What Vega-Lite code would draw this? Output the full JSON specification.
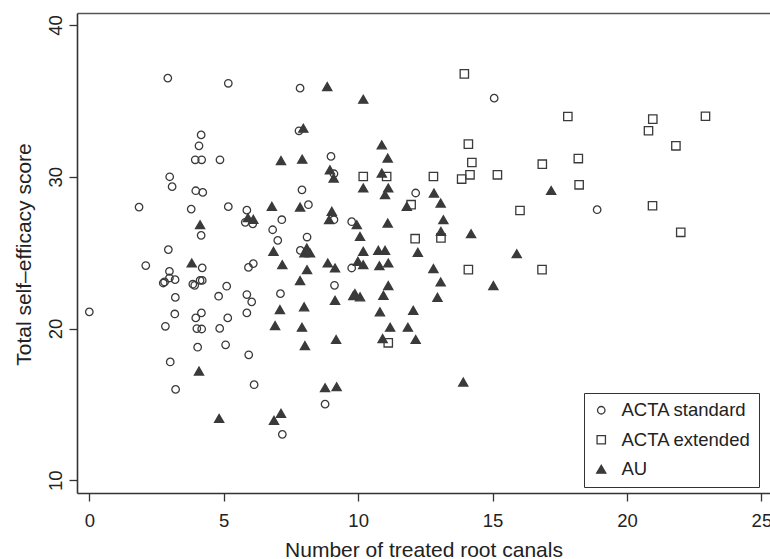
{
  "$schema": "https://vega.github.io/schema/vega-lite/v6.json",
  "autosize": {"type": "none"},
  "width": 693,
  "height": 480,
  "padding": {"left": 77, "top": 13, "right": 0, "bottom": 66},
  "background": "white",
  "config": {
    "view": {"stroke": null},
    "font": "Liberation Sans",
    "axis": {"grid": false, "domainColor": "#333333", "domainWidth": 1.6, "tickColor": "#333333", "tickWidth": 1.3, "tickSize": 8, "labelFont": "Liberation Sans", "labelFontSize": 18.5, "labelColor": "#222222", "titleFont": "Liberation Sans", "titleFontSize": 21, "titleFontWeight": "normal", "titleColor": "#222222"}
  },
  "data": {"values": [
    {"x": 0, "y": 21.1, "g": "ACTA standard"},
    {"x": 1.85, "y": 28.0, "g": "ACTA standard"},
    {"x": 2.1, "y": 24.15, "g": "ACTA standard"},
    {"x": 2.92, "y": 36.5, "g": "ACTA standard"},
    {"x": 2.99, "y": 30.0, "g": "ACTA standard"},
    {"x": 3.08, "y": 29.35, "g": "ACTA standard"},
    {"x": 2.94, "y": 25.2, "g": "ACTA standard"},
    {"x": 2.98, "y": 23.77, "g": "ACTA standard"},
    {"x": 2.75, "y": 23.0, "g": "ACTA standard"},
    {"x": 2.8, "y": 23.07, "g": "ACTA standard"},
    {"x": 2.98, "y": 23.33, "g": "ACTA standard"},
    {"x": 3.19, "y": 23.22, "g": "ACTA standard"},
    {"x": 3.2, "y": 22.05, "g": "ACTA standard"},
    {"x": 3.18, "y": 20.96, "g": "ACTA standard"},
    {"x": 2.83, "y": 20.15, "g": "ACTA standard"},
    {"x": 3.01, "y": 17.8, "g": "ACTA standard"},
    {"x": 3.21, "y": 15.99, "g": "ACTA standard"},
    {"x": 3.79, "y": 27.87, "g": "ACTA standard"},
    {"x": 3.94, "y": 31.12, "g": "ACTA standard"},
    {"x": 4.18, "y": 31.12, "g": "ACTA standard"},
    {"x": 4.08, "y": 32.04, "g": "ACTA standard"},
    {"x": 4.16, "y": 32.76, "g": "ACTA standard"},
    {"x": 3.96, "y": 29.08, "g": "ACTA standard"},
    {"x": 4.22, "y": 28.97, "g": "ACTA standard"},
    {"x": 4.16, "y": 26.14, "g": "ACTA standard"},
    {"x": 4.2, "y": 24.0, "g": "ACTA standard"},
    {"x": 3.85, "y": 22.92, "g": "ACTA standard"},
    {"x": 3.92, "y": 22.85, "g": "ACTA standard"},
    {"x": 4.12, "y": 23.17, "g": "ACTA standard"},
    {"x": 4.2, "y": 23.17, "g": "ACTA standard"},
    {"x": 3.96, "y": 20.7, "g": "ACTA standard"},
    {"x": 4.17, "y": 21.03, "g": "ACTA standard"},
    {"x": 4.0, "y": 20.0, "g": "ACTA standard"},
    {"x": 4.18, "y": 19.97, "g": "ACTA standard"},
    {"x": 4.03, "y": 18.77, "g": "ACTA standard"},
    {"x": 4.86, "y": 31.12, "g": "ACTA standard"},
    {"x": 5.17, "y": 36.16, "g": "ACTA standard"},
    {"x": 5.17, "y": 28.03, "g": "ACTA standard"},
    {"x": 4.81, "y": 22.13, "g": "ACTA standard"},
    {"x": 5.11, "y": 22.79, "g": "ACTA standard"},
    {"x": 5.15, "y": 20.7, "g": "ACTA standard"},
    {"x": 4.85, "y": 20.01, "g": "ACTA standard"},
    {"x": 5.07, "y": 18.93, "g": "ACTA standard"},
    {"x": 5.86, "y": 27.8, "g": "ACTA standard"},
    {"x": 5.8, "y": 27.0, "g": "ACTA standard"},
    {"x": 6.08, "y": 26.9, "g": "ACTA standard"},
    {"x": 5.92, "y": 24.03, "g": "ACTA standard"},
    {"x": 6.1, "y": 24.28, "g": "ACTA standard"},
    {"x": 5.86, "y": 22.24, "g": "ACTA standard"},
    {"x": 6.04, "y": 21.76, "g": "ACTA standard"},
    {"x": 5.86, "y": 21.03, "g": "ACTA standard"},
    {"x": 5.93, "y": 18.27, "g": "ACTA standard"},
    {"x": 6.13, "y": 16.3, "g": "ACTA standard"},
    {"x": 6.82, "y": 26.51, "g": "ACTA standard"},
    {"x": 7.16, "y": 27.17, "g": "ACTA standard"},
    {"x": 7.01, "y": 25.81, "g": "ACTA standard"},
    {"x": 7.11, "y": 22.3, "g": "ACTA standard"},
    {"x": 7.18, "y": 13.03, "g": "ACTA standard"},
    {"x": 7.84, "y": 35.84, "g": "ACTA standard"},
    {"x": 7.8, "y": 33.03, "g": "ACTA standard"},
    {"x": 7.91, "y": 29.14, "g": "ACTA standard"},
    {"x": 8.15, "y": 28.16, "g": "ACTA standard"},
    {"x": 7.85, "y": 25.15, "g": "ACTA standard"},
    {"x": 8.1, "y": 26.03, "g": "ACTA standard"},
    {"x": 8.99, "y": 31.34, "g": "ACTA standard"},
    {"x": 9.1, "y": 30.2, "g": "ACTA standard"},
    {"x": 9.1, "y": 27.17, "g": "ACTA standard"},
    {"x": 9.12, "y": 22.85, "g": "ACTA standard"},
    {"x": 8.77, "y": 15.02, "g": "ACTA standard"},
    {"x": 9.76, "y": 27.04, "g": "ACTA standard"},
    {"x": 9.76, "y": 23.99, "g": "ACTA standard"},
    {"x": 12.14, "y": 28.93, "g": "ACTA standard"},
    {"x": 15.06, "y": 35.18, "g": "ACTA standard"},
    {"x": 18.89, "y": 27.83, "g": "ACTA standard"},
    {"x": 13.95, "y": 36.78, "g": "ACTA extended"},
    {"x": 14.1, "y": 32.15, "g": "ACTA extended"},
    {"x": 14.23, "y": 30.94, "g": "ACTA extended"},
    {"x": 14.16, "y": 30.13, "g": "ACTA extended"},
    {"x": 13.85, "y": 29.85, "g": "ACTA extended"},
    {"x": 15.18, "y": 30.13, "g": "ACTA extended"},
    {"x": 12.8, "y": 30.02, "g": "ACTA extended"},
    {"x": 10.19, "y": 30.02, "g": "ACTA extended"},
    {"x": 11.06, "y": 30.02, "g": "ACTA extended"},
    {"x": 11.97, "y": 28.16, "g": "ACTA extended"},
    {"x": 13.08, "y": 25.97, "g": "ACTA extended"},
    {"x": 12.12, "y": 25.92, "g": "ACTA extended"},
    {"x": 14.1, "y": 23.88, "g": "ACTA extended"},
    {"x": 11.12, "y": 19.06, "g": "ACTA extended"},
    {"x": 17.8, "y": 33.97, "g": "ACTA extended"},
    {"x": 20.96, "y": 33.8, "g": "ACTA extended"},
    {"x": 20.8, "y": 33.03, "g": "ACTA extended"},
    {"x": 22.92, "y": 33.99, "g": "ACTA extended"},
    {"x": 21.82, "y": 32.04, "g": "ACTA extended"},
    {"x": 16.85, "y": 30.83, "g": "ACTA extended"},
    {"x": 18.19, "y": 31.2, "g": "ACTA extended"},
    {"x": 18.22, "y": 29.47, "g": "ACTA extended"},
    {"x": 16.02, "y": 27.78, "g": "ACTA extended"},
    {"x": 20.95, "y": 28.09, "g": "ACTA extended"},
    {"x": 22.0, "y": 26.34, "g": "ACTA extended"},
    {"x": 16.84, "y": 23.88, "g": "ACTA extended"},
    {"x": 3.81, "y": 24.32, "g": "AU"},
    {"x": 4.12, "y": 26.84, "g": "AU"},
    {"x": 4.08, "y": 17.2, "g": "AU"},
    {"x": 4.83, "y": 14.08, "g": "AU"},
    {"x": 5.9, "y": 27.3, "g": "AU"},
    {"x": 6.1, "y": 27.2, "g": "AU"},
    {"x": 6.79, "y": 28.05, "g": "AU"},
    {"x": 6.85, "y": 25.09, "g": "AU"},
    {"x": 7.13, "y": 31.07, "g": "AU"},
    {"x": 7.92, "y": 31.16, "g": "AU"},
    {"x": 7.96, "y": 33.2, "g": "AU"},
    {"x": 8.85, "y": 35.94, "g": "AU"},
    {"x": 8.95, "y": 30.46, "g": "AU"},
    {"x": 9.09, "y": 29.91, "g": "AU"},
    {"x": 7.84, "y": 28.0, "g": "AU"},
    {"x": 9.02, "y": 27.72, "g": "AU"},
    {"x": 8.92, "y": 27.17, "g": "AU"},
    {"x": 8.09, "y": 25.3, "g": "AU"},
    {"x": 8.0, "y": 24.98, "g": "AU"},
    {"x": 8.21, "y": 24.98, "g": "AU"},
    {"x": 7.18, "y": 24.21, "g": "AU"},
    {"x": 8.1, "y": 23.88, "g": "AU"},
    {"x": 8.87, "y": 24.32, "g": "AU"},
    {"x": 9.14, "y": 23.99, "g": "AU"},
    {"x": 7.84, "y": 23.16, "g": "AU"},
    {"x": 9.14, "y": 21.86, "g": "AU"},
    {"x": 9.82, "y": 22.17, "g": "AU"},
    {"x": 7.09, "y": 21.25, "g": "AU"},
    {"x": 7.99, "y": 21.43, "g": "AU"},
    {"x": 6.91, "y": 20.2, "g": "AU"},
    {"x": 7.91, "y": 20.09, "g": "AU"},
    {"x": 8.02, "y": 18.88, "g": "AU"},
    {"x": 9.18, "y": 19.28, "g": "AU"},
    {"x": 8.77, "y": 16.1, "g": "AU"},
    {"x": 9.2, "y": 16.17, "g": "AU"},
    {"x": 7.13, "y": 14.41, "g": "AU"},
    {"x": 6.87, "y": 13.95, "g": "AU"},
    {"x": 10.19, "y": 35.11, "g": "AU"},
    {"x": 10.88, "y": 32.1, "g": "AU"},
    {"x": 11.1, "y": 31.23, "g": "AU"},
    {"x": 10.19, "y": 29.26, "g": "AU"},
    {"x": 10.88, "y": 30.24, "g": "AU"},
    {"x": 11.12, "y": 29.26, "g": "AU"},
    {"x": 11.0, "y": 28.82, "g": "AU"},
    {"x": 11.81, "y": 28.05, "g": "AU"},
    {"x": 12.82, "y": 28.93, "g": "AU"},
    {"x": 13.07, "y": 28.27, "g": "AU"},
    {"x": 13.17, "y": 27.17, "g": "AU"},
    {"x": 13.08, "y": 26.4, "g": "AU"},
    {"x": 14.2, "y": 26.25, "g": "AU"},
    {"x": 9.95, "y": 26.84, "g": "AU"},
    {"x": 11.1, "y": 26.95, "g": "AU"},
    {"x": 10.07, "y": 26.07, "g": "AU"},
    {"x": 10.19, "y": 25.09, "g": "AU"},
    {"x": 9.99, "y": 24.43, "g": "AU"},
    {"x": 10.19, "y": 24.21, "g": "AU"},
    {"x": 10.75, "y": 25.15, "g": "AU"},
    {"x": 11.0, "y": 25.15, "g": "AU"},
    {"x": 10.79, "y": 24.14, "g": "AU"},
    {"x": 11.12, "y": 24.32, "g": "AU"},
    {"x": 12.22, "y": 25.02, "g": "AU"},
    {"x": 12.8, "y": 23.95, "g": "AU"},
    {"x": 11.12, "y": 22.83, "g": "AU"},
    {"x": 13.07, "y": 23.07, "g": "AU"},
    {"x": 15.03, "y": 22.83, "g": "AU"},
    {"x": 9.88, "y": 22.3, "g": "AU"},
    {"x": 10.07, "y": 22.09, "g": "AU"},
    {"x": 10.94, "y": 22.19, "g": "AU"},
    {"x": 12.95, "y": 22.06, "g": "AU"},
    {"x": 10.81, "y": 21.1, "g": "AU"},
    {"x": 12.05, "y": 21.2, "g": "AU"},
    {"x": 11.19, "y": 20.09, "g": "AU"},
    {"x": 11.85, "y": 20.09, "g": "AU"},
    {"x": 10.91, "y": 19.34, "g": "AU"},
    {"x": 12.14, "y": 19.28, "g": "AU"},
    {"x": 13.91, "y": 16.47, "g": "AU"},
    {"x": 17.18, "y": 29.1, "g": "AU"},
    {"x": 15.9, "y": 24.93, "g": "AU"}
  ]},
  "layer": [
    {
      "mark": {"type": "point", "strokeWidth": 1.3, "stroke": "#3a3a3a", "opacity": 1},
      "encoding": {
        "x": {"field": "x", "type": "quantitative", "scale": {"domain": [-0.458, 25.32], "nice": false, "zero": false},
          "axis": {"values": [0, 5, 10, 15, 20, 25], "title": "Number of treated root canals", "labelPadding": 10, "titleY": 63, "titleBaseline": "alphabetic"}},
        "y": {"field": "y", "type": "quantitative", "scale": {"domain": [9.165, 40.79], "nice": false, "zero": false},
          "axis": {"values": [10, 20, 30, 40], "title": "Total self\u2013efficacy score", "labelAngle": -90, "labelAlign": "center", "labelBaseline": "alphabetic", "labelPadding": 8, "titleX": -47, "titleY": 241, "titleBaseline": "alphabetic", "titleAngle": -90}},
        "shape": {"field": "g", "type": "nominal", "scale": {"domain": ["ACTA standard", "ACTA extended", "AU"], "range": ["circle", "square", "triangle-up"]},
          "legend": {"title": null, "orient": "none", "legendX": 507, "legendY": 380, "direction": "vertical", "strokeColor": "#333333", "fillColor": "white", "padding": 8, "rowPadding": 10.5, "labelFont": "Liberation Sans", "labelFontSize": 18.5, "labelColor": "#222222", "labelOffset": 11, "symbolStrokeWidth": 1.3, "symbolStrokeColor": "#3a3a3a"}},
        "fill": {"field": "g", "type": "nominal", "scale": {"domain": ["ACTA standard", "ACTA extended", "AU"], "range": ["transparent", "transparent", "#3a3a3a"]}},
        "size": {"field": "g", "type": "nominal", "scale": {"domain": ["ACTA standard", "ACTA extended", "AU"], "range": [56, 84, 120]}}
      }
    },
    {
      "mark": {"type": "point", "opacity": 0},
      "encoding": {
        "x": {"field": "x", "type": "quantitative", "axis": {"orient": "top", "labels": false, "ticks": false, "title": null, "domainWidth": 1.3, "domainColor": "#555555"}}
      }
    }
  ],
  "resolve": {"axis": {"x": "independent"}}
}
